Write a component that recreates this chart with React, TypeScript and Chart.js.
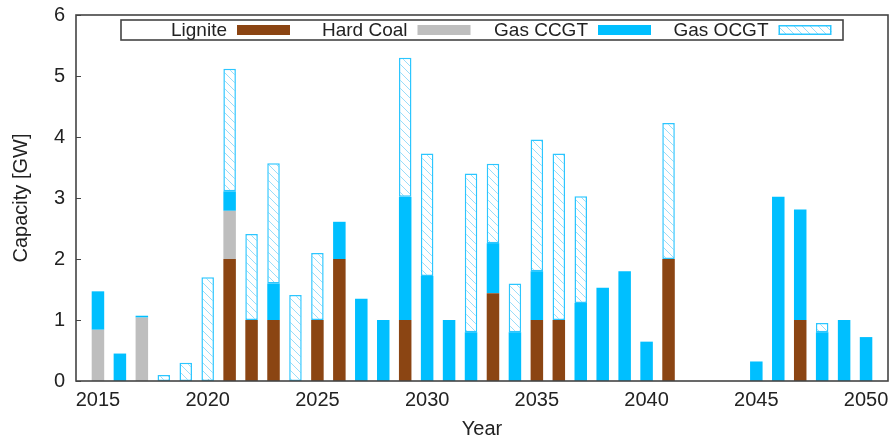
import { useEffect, useRef } from 'react';
import { Chart, registerables } from 'chart.js';

Chart.register(...registerables);

const years = [
  2015, 2016, 2017, 2018, 2019, 2020, 2021, 2022, 2023, 2024, 2025, 2026,
  2027, 2028, 2029, 2030, 2031, 2032, 2033, 2034, 2035, 2036, 2037, 2038,
  2039, 2040, 2041, 2042, 2043, 2044, 2045, 2046, 2047, 2048, 2049, 2050,
];

const lignite = [
  null, null, null, null, null, null, 2.0, 1.0, 1.0, null, 1.0, 2.0,
  null, null, 1.0, null, null, null, 1.44, null, 1.0, 1.0, null, null,
  null, null, 2.0, null, null, null, null, null, 1.0, null, null, null,
];

const hardCoal = [
  0.84, null, 1.04, null, null, null, 0.79, null, null, null, null, null,
  null, null, null, null, null, null, null, null, null, null, null, null,
  null, null, null, null, null, null, null, null, null, null, null, null,
];

const gasCCGT = [
  0.63, 0.45, 0.03, null, null, null, 0.32, null, 0.6, null, null, 0.61,
  1.35, 1.0, 2.02, 1.72, 1.0, 0.8, 0.82, 0.8, 0.8, null, 1.28, 1.53,
  1.8, 0.645, null, null, null, null, 0.32, 3.02, 1.81, 0.8, 1.0, 0.72,
];

const gasOCGT = [
  null, null, null, 0.1, 0.3, 1.7, 2.01, 1.41, 1.97, 1.41, 1.1, null,
  null, null, 2.28, 2.01, null, 2.6, 1.3, 0.8, 2.16, 2.73, 1.75, null,
  null, null, 2.23, null, null, null, null, null, null, 0.15, null, null,
];

const seriesLabels = ['Lignite', 'Hard Coal', 'Gas CCGT', 'Gas OCGT'];
const xTickStep = 5;
const yTickStep = 1;

const FONT = '"Liberation Sans", Arial, Helvetica, sans-serif';
const TEXT = '#222222';
const BROWN = '#8B4513';
const GRAY = '#BEBEBE';
const BLUE = '#00BFFF';
const OCGT_BORDER = '#2CC6FF';

function makeHatch(ctx: CanvasRenderingContext2D): CanvasPattern | string {
  const p = document.createElement('canvas');
  p.width = 8;
  p.height = 8;
  const c = p.getContext('2d');
  if (!c) return '#ffffff';
  c.fillStyle = '#ffffff';
  c.fillRect(0, 0, 8, 8);
  c.strokeStyle = 'rgba(0,170,240,0.4)';
  c.lineWidth = 1;
  c.beginPath();
  c.moveTo(-1, -1);
  c.lineTo(9, 9);
  c.moveTo(-1, 7);
  c.lineTo(1, 9);
  c.moveTo(7, -1);
  c.lineTo(9, 1);
  c.stroke();
  return ctx.createPattern(p, 'repeat') || '#ffffff';
}

const framePlugin = {
  id: 'gnuplotFrame',
  beforeDatasetsDraw(chart: any) {
    const { ctx, chartArea, scales } = chart;
    ctx.save();
    ctx.strokeStyle = '#444444';
    ctx.lineWidth = 1.2;
    ctx.beginPath();
    scales.y.ticks.forEach((t: any) => {
      const py = Math.round(scales.y.getPixelForValue(t.value)) + 0.5;
      ctx.moveTo(chartArea.left, py);
      ctx.lineTo(chartArea.left + 5, py);
    });
    scales.x.ticks.forEach((t: any) => {
      const px = Math.round(scales.x.getPixelForValue(t.value)) + 0.5;
      ctx.moveTo(px, chartArea.bottom);
      ctx.lineTo(px, chartArea.bottom - 5);
    });
    ctx.stroke();
    ctx.restore();
  },
  afterDatasetsDraw(chart: any) {
    const { ctx, chartArea } = chart;
    ctx.save();
    // plot border
    ctx.strokeStyle = '#444444';
    ctx.lineWidth = 1.6;
    ctx.strokeRect(chartArea.left, chartArea.top, chartArea.right - chartArea.left, chartArea.bottom - chartArea.top);

    // legend (gnuplot style: text then sample)
    const n = chart.data.datasets.length;
    const entryW = 180.5;
    const boxW = entryW * n;
    const cx = (chartArea.left + chartArea.right) / 2;
    const boxL = cx - boxW / 2;
    const boxT = chartArea.top + 5;
    const boxH = 20;
    ctx.fillStyle = '#ffffff';
    ctx.fillRect(boxL, boxT, boxW, boxH);
    ctx.strokeStyle = '#444444';
    ctx.lineWidth = 1.6;
    ctx.strokeRect(boxL, boxT, boxW, boxH);
    const midY = boxT + boxH / 2;
    ctx.font = `19px ${FONT}`;
    ctx.textAlign = 'right';
    ctx.textBaseline = 'middle';
    chart.data.datasets.forEach((ds: any, i: number) => {
      const eL = boxL + i * entryW;
      ctx.fillStyle = TEXT;
      ctx.fillText(ds.label, eL + 106, midY + 0.5);
      const sx = eL + 116;
      const sy = midY - 5;
      ctx.fillStyle = ds.backgroundColor;
      ctx.fillRect(sx, sy, 53, 10);
      if (ds.borderWidth) {
        ctx.strokeStyle = ds.borderColor;
        ctx.lineWidth = ds.borderWidth;
        ctx.strokeRect(sx + 0.75, sy + 0.75, 53 - 1.5, 10 - 1.5);
      }
    });
    ctx.restore();
  },
};

export default function App() {
  const canvasRef = useRef<HTMLCanvasElement | null>(null);

  useEffect(() => {
    document.body.style.margin = '0';
    const canvas = canvasRef.current;
    if (!canvas) return;
    const ctx = canvas.getContext('2d');
    if (!ctx) return;
    const hatch = makeHatch(ctx);

    const toPoints = (arr: (number | null)[]) => years.map((x, i) => ({ x, y: arr[i] }));
    const common = { barPercentage: 0.57, categoryPercentage: 1, stack: 's' };

    const chart = new Chart(ctx, {
      type: 'bar',
      data: {
        datasets: [
          { ...common, label: seriesLabels[0], data: toPoints(lignite), backgroundColor: BROWN, borderWidth: 0 },
          { ...common, label: seriesLabels[1], data: toPoints(hardCoal), backgroundColor: GRAY, borderWidth: 0 },
          { ...common, label: seriesLabels[2], data: toPoints(gasCCGT), backgroundColor: BLUE, borderWidth: 0 },
          {
            ...common,
            label: seriesLabels[3],
            data: toPoints(gasOCGT),
            backgroundColor: hatch,
            borderColor: OCGT_BORDER,
            borderWidth: 1.5,
            borderSkipped: false,
          },
        ] as any,
      },
      options: {
        animation: false,
        responsive: false,
        layout: { padding: { top: 15, right: 2, left: 0, bottom: 0 } },
        plugins: { legend: { display: false }, tooltip: { enabled: false } },
        scales: {
          x: {
            type: 'linear',
            min: 2014,
            max: 2051,
            stacked: true,
            offset: false,
            grid: { display: false, drawTicks: false },
            border: { display: false },
            ticks: {
              stepSize: xTickStep,
              includeBounds: false,
              padding: 7,
              color: TEXT,
              font: { family: FONT, size: 20 },
              maxRotation: 0,
              autoSkip: false,
              callback: (v: any) => String(v),
            },
            title: {
              display: true,
              text: 'Year',
              color: TEXT,
              font: { family: FONT, size: 20 },
              padding: { top: 0, bottom: 0 },
            },
            afterFit: (s: any) => {
              s.height = 60;
              s.paddingLeft = 0;
              s.paddingRight = 0;
            },
          },
          y: {
            min: 0,
            max: 6,
            stacked: true,
            grid: { display: false, drawTicks: false },
            border: { display: false },
            ticks: {
              stepSize: yTickStep,
              padding: 11,
              color: TEXT,
              font: { family: FONT, size: 20 },
            },
            title: {
              display: true,
              text: 'Capacity [GW]',
              color: TEXT,
              font: { family: FONT, size: 20 },
              padding: { top: 9, bottom: 0 },
            },
            afterFit: (s: any) => {
              s.width = 76;
              s.paddingTop = 0;
              s.paddingBottom = 0;
            },
          },
        },
      } as any,
      plugins: [framePlugin],
    });

    return () => chart.destroy();
  }, []);

  return (
    <div style={{ width: 890, height: 441 }}>
      <canvas ref={canvasRef} width={890} height={441} />
    </div>
  );
}
